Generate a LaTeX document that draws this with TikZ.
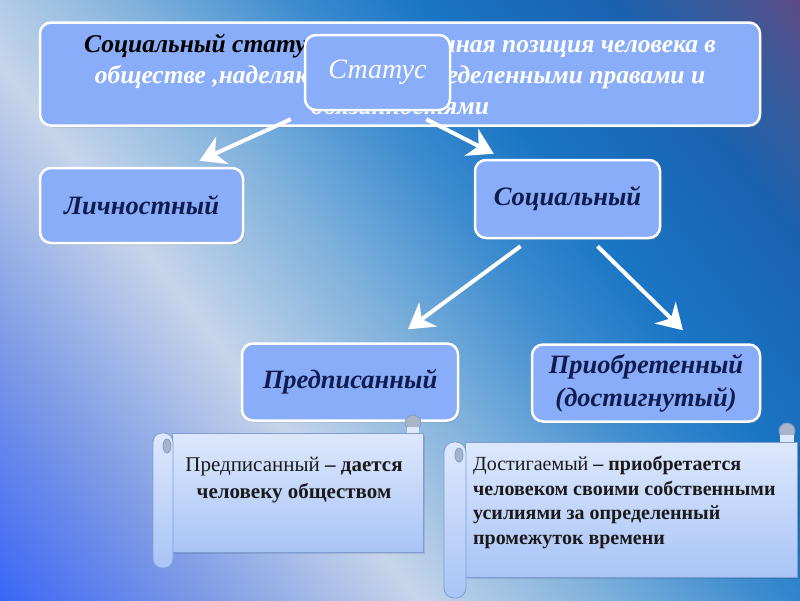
\documentclass[tikz,border=0pt]{standalone}
\usepackage{fontspec}
\setmainfont{Liberation Serif}
\usetikzlibrary{arrows.meta,shadows}

\definecolor{bgA}{HTML}{3A66F6}
\definecolor{bgB}{HTML}{7E9AE6}
\definecolor{bgC}{HTML}{C6D5EA}
\definecolor{bgD}{HTML}{7DB0DC}
\definecolor{bgE}{HTML}{3D8CCF}
\definecolor{bgF}{HTML}{1A75C4}
\definecolor{bgG}{HTML}{1A62B0}
\definecolor{bgH}{HTML}{3A5A9A}
\definecolor{bgI}{HTML}{5C4A86}
\definecolor{boxblue}{HTML}{8AADFA}
\definecolor{labelnavy}{HTML}{0F1C4D}
\definecolor{scrolltop}{HTML}{DDE8FC}
\definecolor{scrollbot}{HTML}{A9C4F7}
\definecolor{scrolledge}{HTML}{7F9DD3}
\definecolor{curlgray}{HTML}{A9B4C8}
\definecolor{descblack}{HTML}{1A1A1A}

\pgfdeclarehorizontalshading{slidebg}{100bp}{color(0bp)=(bgA); color(25bp)=(bgA);
  color(33bp)=(bgB); color(41.5bp)=(bgC); color(49bp)=(bgD); color(55bp)=(bgE);
  color(60bp)=(bgF); color(67.5bp)=(bgG); color(71.5bp)=(bgH); color(75bp)=(bgI);
  color(100bp)=(bgI)}

\begin{document}
\begin{tikzpicture}[x=1pt, y=-1pt,
    box/.style={draw=white, line width=2.5pt, rounded corners=11pt, fill=boxblue,
      drop shadow={shadow xshift=1.5pt, shadow yshift=-2pt, opacity=.3},
      inner sep=0pt, align=center},
    label/.style={font=\fontsize{26.5}{33}\selectfont\bfseries\itshape, text=labelnavy},
    arr/.style={draw=white, line width=4pt, -{Stealth[length=25pt, width=30pt, inset=8pt]}},
    sheet/.style={draw=scrolledge, line width=.8pt, top color=scrolltop, bottom color=scrollbot},
    curl/.style={draw=scrolledge, line width=.8pt, fill=curlgray},
    desc/.style={text=descblack}]
  \useasboundingbox (0,0) rectangle (800,600);
  % background
  \begin{scope}
    \clip (0,0) rectangle (800,600);
    \shade[shading=slidebg, shading angle=38] (-100,-200) rectangle (900,800);
  \end{scope}

  % definition and the root
  \node[box, minimum width=720pt, minimum height=103pt, text=white,
    font=\fontsize{25.5}{31}\selectfont\bfseries\itshape] (def) at (400,74)
    {\textcolor{black}{Социальный статус} – определенная позиция человека в\\
     обществе ,наделяющая его определенными правами и\\ обязанностями};
  \node[box, minimum width=145pt, minimum height=75pt, text=white,
    font=\fontsize{28}{32}\selectfont\itshape] (status) at (377.5,72.5) {Статус};

  % kinds of status
  \node[box, label, minimum width=203pt, minimum height=75pt] (lich) at (141.5,205.5) {Личностный};
  \node[box, label, minimum width=185pt, minimum height=78pt] (soc) at (567.5,199) {Социальный};
  \node[box, label, minimum width=216pt, minimum height=77pt] (pred) at (350,382) {Предписанный};
  \node[box, label, minimum width=228pt, minimum height=77pt] (prio) at (646,383)
    {Приобретенный\\(достигнутый)};

  \draw[arr] ([shift={(-13,8)}]status.south west) -- ([shift={(58,-6)}]lich.north);
  \draw[arr] ([shift={(-25,8)}]status.south east) -- ([shift={(20,-5)}]soc.north west);
  \draw[arr] ([shift={(-47,7)}]soc.south) -- ([shift={(58,-13)}]pred.north);
  \draw[arr] ([shift={(30,7)}]soc.south) -- ([shift={(37,-13)}]prio.north);

  % scrolls
  \fill[black, opacity=.1] (175,436) rectangle (425,554);
  \draw[sheet] (172,433) rectangle (423,552);
  \draw[curl] (413,423) circle (8);
  \fill[scrolltop] (407,427) rectangle (419,432.6);
  \draw[sheet, rounded corners=9pt] (153,433) rectangle (173,568);
  \draw[curl] (167,446) ellipse (4 and 7);

  \fill[black, opacity=.1] (468,445) rectangle (800,579);
  \draw[sheet] (465,442) rectangle (797,577);
  \draw[curl] (787,431) circle (8);
  \fill[scrolltop] (780,435) rectangle (794,441.6);
  \draw[sheet, rounded corners=10pt] (444,442) rectangle (466,598);
  \draw[curl] (459,455) ellipse (4 and 7);

  \node[desc, align=center, font=\fontsize{21}{27}\selectfont] (preddesc) at (294,480)
    {Предписанный \textbf{– дается}\\ \textbf{человеку обществом}};
  \node[desc, align=left, anchor=north west, inner sep=0pt,
    font=\fontsize{20}{24.5}\selectfont] (priodesc) at (473,456)
    {Достигаемый \textbf{– приобретается}\\ \textbf{человеком своими собственными}\\
     \textbf{усилиями за определенный}\\ \textbf{промежуток времени}};
\end{tikzpicture}
\end{document}
